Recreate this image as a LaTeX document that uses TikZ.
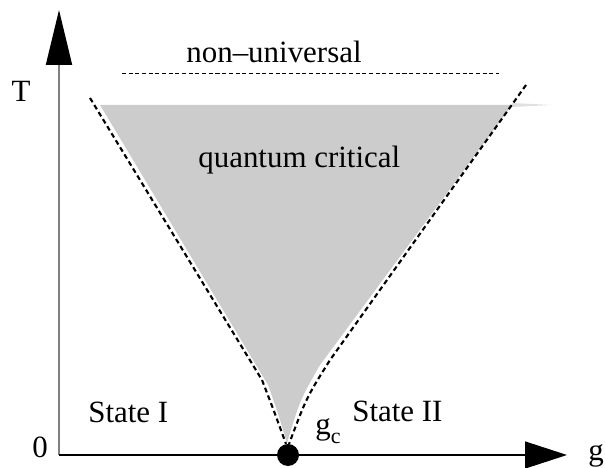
\documentclass[tikz,border=0pt]{standalone}
\usepackage{fontspec}
\setmainfont{Liberation Serif}
\usetikzlibrary{arrows.meta}

\begin{document}
\begin{tikzpicture}[
        lbl/.style={font=\fontsize{17.6}{20}\selectfont, inner sep=0pt},
        taxis/.style={draw=black!50, line width=1.1pt, -{Triangle[length=1.1cm, width=0.52cm, color=black]}},
        gaxis/.style={draw=black, line width=0.8pt, -{Triangle[length=0.84cm, width=0.54cm]}},
        crossover/.style={dash pattern=on 2.8pt off 1.9pt, line width=1.2pt},
        cutoff/.style={dash pattern=on 2.3pt off 1.5pt, line width=0.55pt},
        critfill/.style={fill=black!20, draw=none}
    ]
        \useasboundingbox (-1.18,-0.26) rectangle (10.92,9.10);

        \coordinate (origin) at (0,0);
        \coordinate (ttip) at (0,8.90);
        \coordinate (gtip) at (10.16,0);

        \fill[critfill] (0.82,7.00) -- (9.06,7.00) -- (5.22,1.80)
            .. controls (4.82,1.10) .. (4.56,0.24)
            .. controls (4.36,0.90) .. (4.18,1.40) -- cycle;
        \fill[black!12] (9.06,7.04) -- (9.86,7.00) -- (9.06,6.96) -- cycle;

        \draw[crossover] (0.62,7.14) -- (4.06,1.50) .. controls (4.30,0.88) .. (4.54,0.22);
        \draw[crossover] (9.34,7.40) -- (5.42,1.90) .. controls (4.95,1.15) .. (4.60,0.22);
        \draw[cutoff] (1.26,7.64) -- (8.80,7.64);

        \draw[taxis] (origin) -- (ttip);
        \draw[gaxis] (origin) -- (gtip);
        \node[circle, fill=black, inner sep=0pt, minimum size=0.44cm] (qcp) at (4.58,0) {};

        \node[lbl, anchor=base] (tlabel) at (-0.76,7.06) {T};
        \node[lbl, anchor=base] (zero) at (-0.38,-0.06) {0};
        \node[lbl, anchor=base west] (glabel) at (10.58,-0.12) {g};
        \node[lbl, anchor=base] (nonuni) at (4.30,7.84) {non–universal};
        \node[lbl, anchor=base west] (qcrit) at (2.78,5.74) {quantum critical};
        \node[lbl, anchor=base west] (state1) at (0.58,0.64) {State I};
        \node[lbl, anchor=base west] (state2) at (5.86,0.66) {State II};
        \node[lbl, anchor=base west] (gc) at (5.12,0.40) {g\raisebox{-0.29em}{\fontsize{12.5}{14}\selectfont c}};
    \end{tikzpicture}
\end{document}
